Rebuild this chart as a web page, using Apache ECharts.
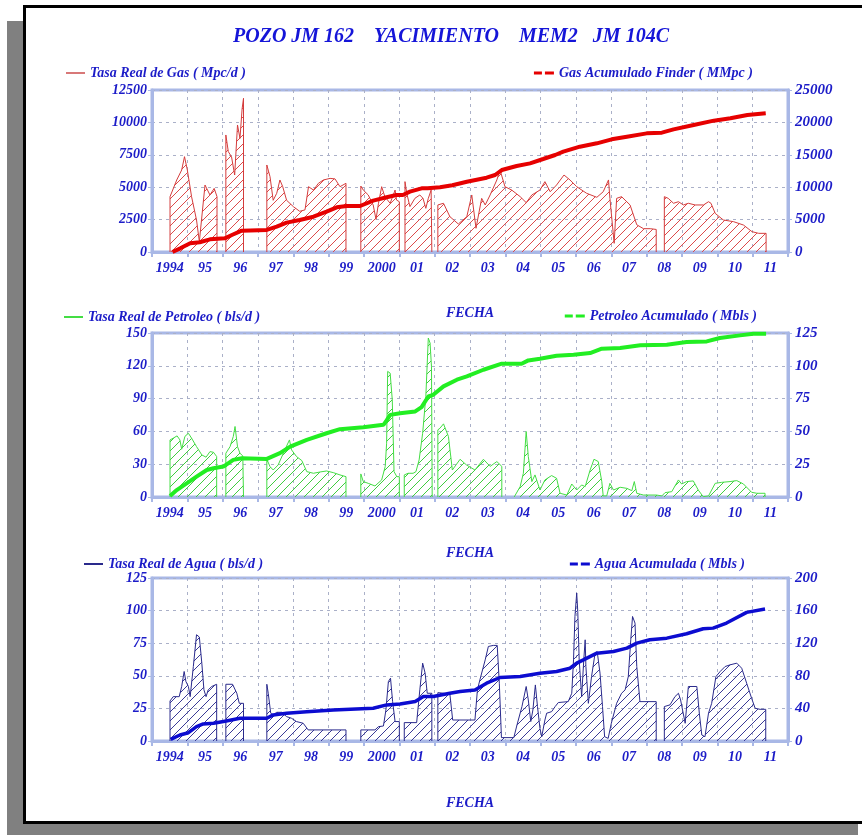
<!DOCTYPE html>
<html>
<head>
<meta charset="utf-8">
<script src="https://cdn.jsdelivr.net/npm/echarts@6/dist/echarts.min.js"></script>
<style>
  html, body { margin: 0; padding: 0; background: #ffffff; }
  #chart { width: 862px; height: 835px; }
</style>
</head>
<body>
<div id="chart"></div>
<script>
// Year bands along the date axis
const yearLabels = ['1994','95','96','97','98','99','2000','01','02','03','04','05','06','07','08','09','10','11'];

// Gas rate (Mpc/d), one array per producing period: [decimal year, rate]
const gasRate = [
  [[1994.51,4270],[1994.70,5556],[1994.84,6327],[1994.92,7355],[1995.00,6327],[1995.12,4270],[1995.26,2470],[1995.34,797],[1995.50,5170],[1995.64,4400],[1995.76,4910],[1995.84,4270]],
  [[1996.09,9030],[1996.16,7740],[1996.25,7355],[1996.34,5940],[1996.42,9800],[1996.49,8770],[1996.55,11040],[1996.59,11860]],
  [[1997.25,6713],[1997.34,5813],[1997.43,3990],[1997.53,4530],[1997.62,5556],[1997.70,5040],[1997.81,3990],[1998.00,3500],[1998.18,3140],[1998.33,3250],[1998.43,5040],[1998.57,4780],[1998.71,5300],[1998.85,5556],[1999.04,5680],[1999.18,5640],[1999.32,5040],[1999.49,5300]],
  [[1999.91,5090],[1999.98,4780],[2000.12,4400],[2000.26,3630],[2000.34,2520],[2000.41,3760],[2000.50,5040],[2000.59,4270],[2000.74,3760],[2000.83,4400],[2000.88,4780],[2000.92,4010],[2001.00,3880]],
  [[2001.16,5430],[2001.21,4530],[2001.30,3500],[2001.44,4140],[2001.58,4400],[2001.67,4140],[2001.75,3370],[2001.82,4140],[2001.90,4780],[2001.92,4780]],
  [[2002.09,3630],[2002.25,3760],[2002.43,2730],[2002.67,2160],[2002.91,2730],[2003.05,4400],[2003.10,4400],[2003.17,1830],[2003.33,4140],[2003.43,3630],[2003.57,4400],[2003.76,5560],[2003.85,6330],[2003.99,5040],[2004.18,4780],[2004.42,4270],[2004.59,3810],[2004.75,4400],[2004.98,4780],[2005.12,5430],[2005.27,4650],[2005.45,5170],[2005.66,5940],[2005.83,5560],[2006.02,5040],[2006.30,4530],[2006.59,4220],[2006.77,4650],[2006.92,5560],[2006.96,4140],[2007.08,670],[2007.15,4140],[2007.29,4270],[2007.53,3630],[2007.72,2100],[2007.91,1800],[2008.10,1800],[2008.27,1740]],
  [[2008.50,4270],[2008.61,4140],[2008.76,3760],[2008.90,3880],[2009.04,3630],[2009.18,3760],[2009.37,3630],[2009.61,3630],[2009.75,3880],[2009.82,3760],[2009.94,2980],[2010.17,2470],[2010.46,2340],[2010.74,2080],[2010.98,1570],[2011.17,1440],[2011.38,1440]]
];

// Cumulative gas (MMpc)
const gasCum = [[1994.58,0],[1994.80,565],[1995.08,1340],[1995.35,1500],[1995.64,1950],[1996.06,2110],[1996.26,2620],[1996.54,3290],[1997.25,3400],[1997.53,3910],[1997.81,4530],[1998.18,4940],[1998.57,5450],[1998.94,6220],[1999.23,6890],[1999.51,7100],[1999.89,7100],[2000.26,7920],[2000.64,8440],[2000.92,8800],[2001.10,8800],[2001.30,9310],[2001.63,9830],[2001.80,9830],[2002.15,10000],[2002.50,10300],[2002.91,10850],[2003.47,11470],[2003.71,11880],[2003.90,12650],[2004.32,13270],[2004.70,13680],[2005.07,14350],[2005.41,14970],[2005.64,15480],[2006.11,16250],[2006.59,16770],[2007.01,17390],[2007.44,17800],[2008.00,18310],[2008.43,18420],[2008.76,18930],[2009.33,19600],[2009.90,20270],[2010.37,20630],[2010.85,21140],[2011.37,21400]];

// Oil rate (bls/d) per producing period
const oilRate = [
  [[1994.51,52.2],[1994.60,53.8],[1994.71,55.9],[1994.79,52.2],[1994.84,43.7],[1994.93,55.3],[1995.03,58.3],[1995.12,53.8],[1995.26,46.1],[1995.41,38.5],[1995.53,36.4],[1995.64,41.5],[1995.74,40.9],[1995.83,37.0]],
  [[1996.09,40.0],[1996.21,46.1],[1996.30,55.3],[1996.35,64.5],[1996.42,46.1],[1996.49,40.0],[1996.57,37.6],[1996.59,37.6]],
  [[1997.25,34.5],[1997.34,27.8],[1997.43,24.7],[1997.57,29.3],[1997.76,43.1],[1997.89,52.2],[1997.95,43.1],[1998.09,37.0],[1998.24,33.3],[1998.38,23.2],[1998.57,21.7],[1998.76,22.9],[1998.94,23.8],[1999.13,22.3],[1999.32,20.2],[1999.49,18.6]],
  [[1999.91,21.1],[1999.98,14.1],[2000.12,12.5],[2000.31,10.1],[2000.50,15.6],[2000.60,27.8],[2000.64,49.2],[2000.67,114.9],[2000.74,113.3],[2000.80,88.9],[2000.85,23.2],[2000.93,18.6],[2001.00,18.6]],
  [[2001.14,20.2],[2001.25,21.7],[2001.39,21.7],[2001.47,23.2],[2001.56,33.9],[2001.66,58.3],[2001.75,92.0],[2001.82,145.4],[2001.87,140.8],[2001.91,119.0],[2001.93,119.0]],
  [[2002.09,61.4],[2002.15,62.9],[2002.25,66.9],[2002.39,55.3],[2002.50,24.7],[2002.72,34.5],[2002.90,29.3],[2003.14,24.7],[2003.38,34.5],[2003.57,28.0],[2003.76,32.4],[2003.90,28.0]],
  [[2004.25,1.5],[2004.42,9.5],[2004.51,21.7],[2004.59,59.9],[2004.65,37.0],[2004.75,14.1],[2004.84,20.2],[2004.98,6.4],[2005.12,15.6],[2005.31,19.6],[2005.45,17.1],[2005.55,3.4],[2005.74,1.8],[2005.88,11.9],[2006.02,6.4],[2006.16,11.0],[2006.26,9.5],[2006.40,24.7],[2006.51,34.5],[2006.63,32.4],[2006.73,14.1],[2006.77,1.0],[2006.87,1.0],[2006.96,12.5],[2007.06,6.4],[2007.25,8.9],[2007.44,7.9],[2007.58,5.8],[2007.65,14.1],[2007.72,3.4],[2007.91,1.8],[2008.28,1.8],[2008.43,1.0],[2008.52,4.0],[2008.71,4.9],[2008.90,15.6],[2008.99,11.9],[2009.13,14.1],[2009.32,14.7],[2009.46,6.4],[2009.60,0.3],[2009.75,1.0],[2009.94,12.5],[2010.12,13.4],[2010.36,14.1],[2010.55,15.0],[2010.74,11.9],[2010.97,4.3],[2011.12,3.4],[2011.35,3.4]]
];

// Cumulative oil (Mbls)
const oilCum = [[1994.51,0.8],[1994.70,5.3],[1994.98,10.4],[1995.26,15.5],[1995.55,20.6],[1995.74,21.9],[1996.02,23.2],[1996.30,28.3],[1996.54,29.5],[1997.25,29.0],[1997.62,33.4],[1997.91,38.4],[1998.38,43.5],[1998.94,48.6],[1999.32,51.7],[1999.98,53.2],[2000.55,55.0],[2000.62,57.5],[2000.74,62.6],[2001.02,63.9],[2001.45,65.2],[2001.63,68.5],[2001.82,76.6],[2001.96,77.9],[2002.25,84.3],[2002.63,89.4],[2002.91,91.9],[2003.38,97.0],[2003.90,101.6],[2004.46,101.6],[2004.65,104.1],[2004.98,105.4],[2005.45,107.7],[2005.93,108.5],[2006.40,109.7],[2006.73,113.0],[2007.25,113.5],[2007.82,115.6],[2008.57,116.1],[2009.13,118.1],[2009.70,118.6],[2010.07,121.2],[2010.64,123.2],[2011.02,124.5],[2011.38,124.5]];

// Water rate (bls/d) per producing period
const waterRate = [
  [[1994.51,30.7],[1994.60,34.0],[1994.77,34.0],[1994.84,41.8],[1994.91,53.3],[1994.96,45.6],[1995.03,41.8],[1995.08,34.0],[1995.17,57.1],[1995.26,81.5],[1995.34,79.7],[1995.41,59.7],[1995.47,39.2],[1995.53,34.0],[1995.59,39.2],[1995.69,41.8],[1995.83,43.5]],
  [[1996.09,43.5],[1996.28,43.5],[1996.40,36.6],[1996.47,28.9],[1996.59,28.9]],
  [[1997.25,43.5],[1997.29,36.6],[1997.36,21.3],[1997.43,20.0],[1997.53,22.0],[1997.67,22.0],[1997.81,18.7],[1997.95,17.4],[1998.09,14.9],[1998.28,13.6],[1998.42,8.5],[1999.49,8.5]],
  [[1999.91,8.5],[2000.31,8.5],[2000.41,11.0],[2000.55,11.5],[2000.62,23.8],[2000.69,45.6],[2000.75,48.2],[2000.81,30.2],[2000.88,14.9],[2001.00,14.9]],
  [[2001.14,14.1],[2001.49,14.1],[2001.58,39.2],[2001.66,59.7],[2001.73,52.0],[2001.79,36.6],[2001.92,36.6]],
  [[2002.09,37.1],[2002.43,36.1],[2002.51,16.1],[2003.14,16.1],[2003.21,39.2],[2003.28,46.9],[2003.43,62.2],[2003.52,72.5],[2003.66,73.3],[2003.77,73.3],[2003.83,44.3],[2003.89,2.6],[2004.24,2.6],[2004.33,12.3],[2004.47,26.4],[2004.59,41.8],[2004.65,31.5],[2004.72,14.9],[2004.78,23.8],[2004.85,43.0],[2004.91,26.4],[2004.98,9.7],[2005.03,3.3],[2005.12,16.1],[2005.17,21.3],[2005.31,22.5],[2005.41,26.4],[2005.50,29.5],[2005.78,30.2],[2005.88,36.6],[2005.93,62.2],[2005.97,95.5],[2006.02,113.5],[2006.05,99.4],[2006.09,62.2],[2006.16,34.0],[2006.22,62.2],[2006.26,77.6],[2006.28,57.1],[2006.35,28.9],[2006.44,49.4],[2006.54,67.4],[2006.60,68.6],[2006.68,52.0],[2006.75,26.4],[2006.81,3.3],[2006.91,2.0],[2007.00,13.6],[2007.15,28.9],[2007.29,36.6],[2007.39,39.2],[2007.48,49.4],[2007.55,77.6],[2007.60,95.5],[2007.67,90.4],[2007.72,57.1],[2007.81,30.2],[2008.27,30.2]],
  [[2008.50,26.4],[2008.66,27.7],[2008.80,34.0],[2008.90,36.6],[2008.96,31.5],[2009.09,13.6],[2009.18,41.8],[2009.42,41.8],[2009.49,21.3],[2009.56,4.6],[2009.65,3.3],[2009.75,21.3],[2009.84,28.9],[2009.96,49.4],[2010.08,53.3],[2010.22,57.1],[2010.36,58.4],[2010.55,59.7],[2010.69,55.8],[2010.83,44.3],[2010.97,32.8],[2011.07,25.1],[2011.21,24.3],[2011.37,24.3]]
];

// Cumulative water (Mbls)
const waterCum = [[1994.53,2.0],[1994.79,7.4],[1995.03,10.2],[1995.26,17.6],[1995.45,20.9],[1995.74,21.7],[1996.10,24.6],[1996.49,27.9],[1997.25,27.9],[1997.43,32.0],[1997.81,34.0],[1998.38,36.0],[1999.13,38.1],[2000.26,40.2],[2000.64,44.3],[2001.02,45.5],[2001.45,48.4],[2001.68,54.5],[2001.96,54.5],[2002.43,58.6],[2002.72,60.7],[2003.14,62.7],[2003.47,70.9],[2003.85,77.9],[2004.42,79.1],[2004.98,83.2],[2005.45,85.2],[2005.83,89.3],[2006.02,95.5],[2006.21,99.6],[2006.59,107.8],[2007.06,109.8],[2007.44,113.9],[2007.72,120.1],[2008.09,124.2],[2008.57,126.2],[2009.13,131.6],[2009.60,137.7],[2009.88,138.5],[2010.26,144.7],[2010.83,157.8],[2011.35,161.9]];

// Axis scales: [max, interval] for the left (rate) and right (cumulative) axes
const rateScales = [[12500, 2500], [150, 30], [125, 25]];
const cumScales  = [[25000, 5000], [125, 25], [200, 40]];

const INK = '#1c1cc8';
const FRAME = '#a9b8e6';
const serif = 'Liberation Serif';

// Diagonal hatch tile used to fill the rate areas
function hatch(color) {
  const c = document.createElement('canvas');
  c.width = 9; c.height = 9;
  const g = c.getContext('2d');
  g.strokeStyle = color;
  g.lineWidth = 1;
  g.beginPath();
  g.moveTo(0, 9); g.lineTo(9, 0);
  g.moveTo(-1, 1); g.lineTo(1, -1);
  g.moveTo(8, 10); g.lineTo(10, 8);
  g.stroke();
  return { image: c, repeat: 'repeat' };
}

// Each producing period closes down to zero at both ends; periods are split by a gap
function periods(segs) {
  const out = [];
  segs.forEach((s, i) => {
    if (i > 0) out.push([s[0][0] - 0.01, '-']);
    out.push([s[0][0], 0]);
    s.forEach(p => out.push(p));
    out.push([s[s.length - 1][0], 0]);
  });
  return out;
}

const plain = v => String(v);

const grids = [
  { left: 152, right: 74, top: 90, height: 162 },
  { left: 152, right: 74, top: 333, height: 164 },
  { left: 152, right: 74, top: 578, height: 163 }
].map(g => Object.assign(g, { show: true, borderColor: FRAME, borderWidth: 3, backgroundColor: 'transparent' }));

const labelFont = { color: INK, fontFamily: serif, fontStyle: 'italic', fontWeight: 'bold', fontSize: 14 };
const nameGaps = [54, 49, 55];

const xAxis = [];
const yAxis = [];
grids.forEach((g, i) => {
  xAxis.push({
    type: 'value', gridIndex: i, position: 'bottom', min: 1994, max: 2012, interval: 1,
    axisLine: { show: true, lineStyle: { color: FRAME, width: 3 } },
    axisTick: { show: true, length: 5, lineStyle: { color: FRAME, width: 2 } },
    minorTick: { show: i === 2, splitNumber: 12, length: 2, lineStyle: { color: FRAME, width: 1 } },
    axisLabel: { show: false },
    splitLine: { show: true, lineStyle: { color: '#aab0c8', width: 1, type: [3, 4] } }
  });
  xAxis.push({
    type: 'category', gridIndex: i, position: 'bottom', data: yearLabels, boundaryGap: true,
    axisLine: { show: false }, axisTick: { show: false }, splitLine: { show: false },
    axisLabel: Object.assign({ margin: 9, interval: 0 }, labelFont),
    name: 'FECHA', nameLocation: 'middle', nameGap: nameGaps[i],
    nameTextStyle: { color: INK, fontFamily: serif, fontStyle: 'italic', fontWeight: 'bold', fontSize: 14 }
  });
  yAxis.push({
    type: 'value', gridIndex: i, position: 'left', min: 0, max: rateScales[i][0], interval: rateScales[i][1],
    axisLine: { show: true, lineStyle: { color: FRAME, width: 3 } },
    axisTick: { show: true, length: 4, lineStyle: { color: FRAME, width: 1 } },
    axisLabel: Object.assign({ margin: 5, formatter: plain }, labelFont),
    splitLine: { show: true, lineStyle: { color: '#aab0c8', width: 1, type: [3, 4] } }
  });
  yAxis.push({
    type: 'value', gridIndex: i, position: 'right', min: 0, max: cumScales[i][0], interval: cumScales[i][1],
    axisLine: { show: true, lineStyle: { color: FRAME, width: 3 } },
    axisTick: { show: true, length: 4, lineStyle: { color: FRAME, width: 1 } },
    axisLabel: Object.assign({ margin: 7, formatter: plain }, labelFont, { fontSize: 15 }),
    splitLine: { show: false }
  });
});

const panels = [
  { rate: gasRate, cum: gasCum, rateName: 'Tasa Real de Gas ( Mpc/d )', cumName: 'Gas Acumulado Finder ( MMpc )',
    rateLine: '#d43c3c', hatchColor: '#dc4a4a', legendLine: '#d87878', cumLine: '#e60000', cumWidth: 4 },
  { rate: oilRate, cum: oilCum, rateName: 'Tasa Real de Petroleo ( bls/d )', cumName: 'Petroleo Acumulado ( Mbls )',
    rateLine: '#44dd44', hatchColor: '#40cc40', legendLine: '#44dd44', cumLine: '#22ee22', cumWidth: 4 },
  { rate: waterRate, cum: waterCum, rateName: 'Tasa Real de Agua ( bls/d )', cumName: 'Agua Acumulada ( Mbls )',
    rateLine: '#2a2a8c', hatchColor: '#3a3a96', legendLine: '#2a2a8c', cumLine: '#0c0cd0', cumWidth: 3.5 }
];

const series = [];
panels.forEach((p, i) => {
  series.push({
    type: 'line', name: p.rateName, xAxisIndex: 2 * i, yAxisIndex: 2 * i,
    data: periods(p.rate), showSymbol: false, connectNulls: false, z: 2,
    lineStyle: { width: 1, color: p.rateLine }, itemStyle: { color: p.rateLine },
    areaStyle: { color: hatch(p.hatchColor), opacity: 1 }
  });
  series.push({
    type: 'line', name: p.cumName, xAxisIndex: 2 * i, yAxisIndex: 2 * i + 1,
    data: p.cum, showSymbol: false, z: 3,
    lineStyle: { width: p.cumWidth, color: p.cumLine }, itemStyle: { color: p.cumLine }
  });
});

const legendText = { color: INK, fontFamily: serif, fontStyle: 'italic', fontWeight: 'bold', fontSize: 14 };
const legendPos = [
  { l: [66, 66], r: [109, 66] },
  { l: [64, 310], r: [105, 309] },
  { l: [84, 557], r: [117, 557] }
];
const legend = [];
panels.forEach((p, i) => {
  legend.push({
    left: legendPos[i].l[0], top: legendPos[i].l[1], itemWidth: 19, itemHeight: 2, itemGap: 4,
    selectedMode: false, textStyle: legendText, padding: 0,
    data: [{ name: p.rateName, icon: 'rect', itemStyle: { color: p.legendLine } }]
  });
  legend.push({
    right: legendPos[i].r[0], top: legendPos[i].r[1], itemWidth: 20, itemHeight: 3, itemGap: 4,
    selectedMode: false, textStyle: legendText, padding: 0,
    data: [{ name: p.cumName, icon: 'path://M0 0H8V3H0Z M11 0H20V3H11Z', itemStyle: { color: p.cumLine } }]
  });
});

const chart = echarts.init(document.getElementById('chart'), null, { renderer: 'canvas' });
chart.setOption({
  animation: false,
  backgroundColor: '#ffffff',
  title: {
    text: 'POZO JM 162    YACIMIENTO    MEM2   JM 104C',
    left: 228, top: 22,
    textStyle: { color: '#1515d8', fontFamily: serif, fontStyle: 'italic', fontWeight: 'bold', fontSize: 20 }
  },
  graphic: {
    elements: [
      { type: 'rect', z: -100, silent: true, shape: { x: 7, y: 21, width: 851, height: 814 }, style: { fill: '#808080' } },
      { type: 'rect', z: -99, silent: true, shape: { x: 24.5, y: 6.5, width: 850, height: 816 }, style: { fill: '#ffffff', stroke: '#000000', lineWidth: 3 } }
    ]
  },
  legend: legend,
  grid: grids,
  xAxis: xAxis,
  yAxis: yAxis,
  series: series
});
</script>
</body>
</html>
